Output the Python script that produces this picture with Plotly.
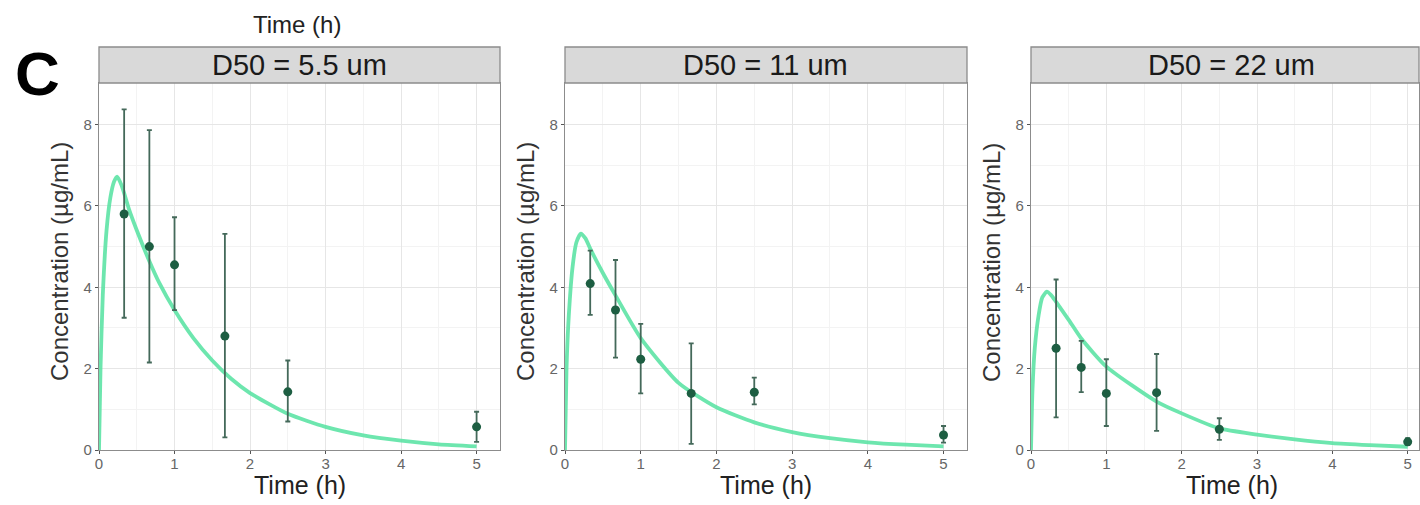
import plotly.graph_objects as go

# ---------------- data ----------------
panel_titles = ["D50 = 5.5 um", "D50 = 11 um", "D50 = 22 um"]
x_title = "Time (h)"
y_title = "Concentration (µg/mL)"

obs_time = [0.333, 0.667, 1.0, 1.667, 2.5, 5.0]

obs_mean_1 = [5.80, 5.00, 4.55, 2.80, 1.43, 0.57]
obs_upper_1 = [8.37, 7.86, 5.72, 5.31, 2.20, 0.94]
obs_lower_1 = [3.25, 2.15, 3.44, 0.31, 0.70, 0.20]

obs_mean_2 = [4.09, 3.44, 2.23, 1.39, 1.42, 0.37]
obs_upper_2 = [4.90, 4.67, 3.10, 2.62, 1.78, 0.59]
obs_lower_2 = [3.32, 2.27, 1.39, 0.15, 1.12, 0.18]

obs_mean_3 = [2.50, 2.03, 1.39, 1.41, 0.51, 0.20]
obs_upper_3 = [4.19, 2.68, 2.23, 2.36, 0.78, 0.29]
obs_lower_3 = [0.80, 1.42, 0.59, 0.47, 0.25, 0.12]

pred_time_1 = [0, 0.02, 0.05, 0.1, 0.15, 0.2, 0.24, 0.3, 0.4, 0.5, 0.667, 0.8, 1.0,
               1.25, 1.5, 1.75, 2.0, 2.5, 3.0, 3.5, 4.0, 4.5, 5.0]
pred_conc_1 = [0, 2.0, 3.8, 5.4, 6.2, 6.6, 6.72, 6.5, 5.9, 5.4, 4.64, 4.1, 3.44,
               2.75, 2.2, 1.75, 1.4, 0.89, 0.57, 0.36, 0.23, 0.14, 0.09]

pred_time_2 = [0, 0.02, 0.05, 0.1, 0.15, 0.21, 0.27, 0.333, 0.5, 0.667, 1.0,
               1.5, 2.0, 2.5, 3.0, 3.5, 4.0, 4.5, 5.0]
pred_conc_2 = [0, 2.0, 3.3, 4.5, 5.1, 5.32, 5.2, 4.95, 4.35, 3.8, 2.75,
               1.65, 1.05, 0.68, 0.44, 0.29, 0.19, 0.13, 0.09]

pred_time_3 = [0, 0.02, 0.05, 0.1, 0.15, 0.21, 0.27, 0.333, 0.5, 0.667, 1.0,
               1.667, 2.0, 2.5, 3.0, 3.5, 4.0, 4.5, 5.0]
pred_conc_3 = [0, 1.5, 2.5, 3.3, 3.75, 3.89, 3.8, 3.64, 3.2, 2.74, 2.05,
               1.19, 0.9, 0.53, 0.38, 0.26, 0.17, 0.12, 0.08]

x_tick_vals = [0, 1, 2, 3, 4, 5]
y_tick_vals = [0, 2, 4, 6, 8]

# ---------------- layout geometry ----------------
W, H = 1420, 505
panel_px = [(99, 500), (565, 967), (1031, 1419)]
x_ranges = [[0, 5.31], [0, 5.31], [0, 5.15]]
plot_top_px, plot_bot_px = 83, 450
strip_top_px = 47

def px_x(p):
    return p / W

def px_y(p):
    return (H - p) / H

LINE_COLOR = "rgba(84, 226, 160, 0.85)"
PT_COLOR = "#1d5e42"
ERR_COLOR = "#44695a"
FONT = "Liberation Sans, Arial, sans-serif"

fig = go.Figure()

obs_sets = [
    (obs_mean_1, obs_upper_1, obs_lower_1),
    (obs_mean_2, obs_upper_2, obs_lower_2),
    (obs_mean_3, obs_upper_3, obs_lower_3),
]
pred_sets = [(pred_time_1, pred_conc_1), (pred_time_2, pred_conc_2), (pred_time_3, pred_conc_3)]

for i in range(3):
    xa = "x" if i == 0 else f"x{i+1}"
    ya = "y" if i == 0 else f"y{i+1}"
    pt, pc = pred_sets[i]
    fig.add_trace(go.Scatter(
        x=pt, y=pc, mode="lines", xaxis=xa, yaxis=ya,
        line=dict(color=LINE_COLOR, width=3.8, shape="spline", smoothing=0.6),
        showlegend=False, hoverinfo="skip"))
    m, u, l = obs_sets[i]
    fig.add_trace(go.Scatter(
        x=obs_time, y=m, mode="markers", xaxis=xa, yaxis=ya,
        marker=dict(color=PT_COLOR, size=9),
        error_y=dict(type="data", symmetric=False,
                     array=[uu - mm for uu, mm in zip(u, m)],
                     arrayminus=[mm - ll for mm, ll in zip(m, l)],
                     color=ERR_COLOR, thickness=1.8, width=2.5),
        showlegend=False))

axis_common = dict(
    showline=True, mirror=True, linecolor="#8c8c8c", linewidth=1.3,
    showgrid=True, gridcolor="#e6e6e6", gridwidth=1,
    ticks="outside", ticklen=3, tickcolor="#555555",
    tickfont=dict(family=FONT, size=15, color="#666666"),
    zeroline=False, automargin=False,
)

layout = dict(
    width=W, height=H, margin=dict(l=0, r=0, t=0, b=0, pad=0, autoexpand=False),
    paper_bgcolor="white", plot_bgcolor="white",
    font=dict(family=FONT),
)

shapes = []
annotations = []
for i in range(3):
    xk = "xaxis" if i == 0 else f"xaxis{i+1}"
    yk = "yaxis" if i == 0 else f"yaxis{i+1}"
    x0, x1 = panel_px[i]
    layout[xk] = dict(
        axis_common,
        domain=[px_x(x0), px_x(x1)], range=x_ranges[i],
        tickvals=x_tick_vals,
        ticklabelstandoff=-3,
        minor=dict(dtick=0.5, showgrid=True, gridcolor="#f3f3f3", gridwidth=1),
        anchor="y" if i == 0 else f"y{i+1}",
    )
    layout[yk] = dict(
        axis_common,
        domain=[px_y(plot_bot_px), px_y(plot_top_px)], range=[0, 9.02],
        tickvals=y_tick_vals,
        minor=dict(dtick=1, showgrid=True, gridcolor="#f3f3f3", gridwidth=1),
        anchor="x" if i == 0 else f"x{i+1}",
    )
    # axis titles
    annotations.append(dict(xref="paper", yref="paper",
                            x=px_x((x0 + 500 - 99 + x0) / 2 if i == 2 else (x0 + x1) / 2), y=px_y(485),
                            text=x_title, showarrow=False,
                            font=dict(family=FONT, size=25, color="#222222"),
                            xanchor="center", yanchor="middle"))
    annotations.append(dict(xref="paper", yref="paper",
                            x=px_x(x0 - 40), y=px_y(262),
                            text=y_title, showarrow=False, textangle=-90,
                            font=dict(family=FONT, size=24, color="#333333"),
                            xanchor="center", yanchor="middle"))
    # facet strip
    shapes.append(dict(type="rect", xref="paper", yref="paper",
                       x0=px_x(x0), x1=px_x(x1), y0=px_y(plot_top_px), y1=px_y(strip_top_px),
                       fillcolor="#d9d9d9", line=dict(color="#8c8c8c", width=1.3)))
    annotations.append(dict(xref="paper", yref="paper",
                            x=px_x((x0 + 500 - 99 + x0) / 2 if i == 2 else (x0 + x1) / 2),
                            y=px_y((plot_top_px + strip_top_px) / 2),
                            text=panel_titles[i], showarrow=False,
                            font=dict(family=FONT, size=29, color="#1a1a1a"),
                            xanchor="center", yanchor="middle"))

annotations.append(dict(xref="paper", yref="paper", x=px_x(37), y=px_y(73),
                        text="<b>C</b>", showarrow=False,
                        font=dict(family=FONT, size=62, color="black"),
                        xanchor="center", yanchor="middle"))
annotations.append(dict(xref="paper", yref="paper", x=px_x(297), y=px_y(24),
                        text=x_title, showarrow=False,
                        font=dict(family=FONT, size=24, color="#222222"),
                        xanchor="center", yanchor="middle"))

layout["shapes"] = shapes
layout["annotations"] = annotations
fig.update_layout(**layout)

fig.write_html("out.html", config={"displayModeBar": False})

# remove default page margin so the figure sits at the window origin
with open("out.html", "r", encoding="utf-8") as f:
    html = f.read()
html = html.replace("<head>", "<head><style>html,body{margin:0;padding:0;overflow:hidden;}</style>", 1)
with open("out.html", "w", encoding="utf-8") as f:
    f.write(html)
